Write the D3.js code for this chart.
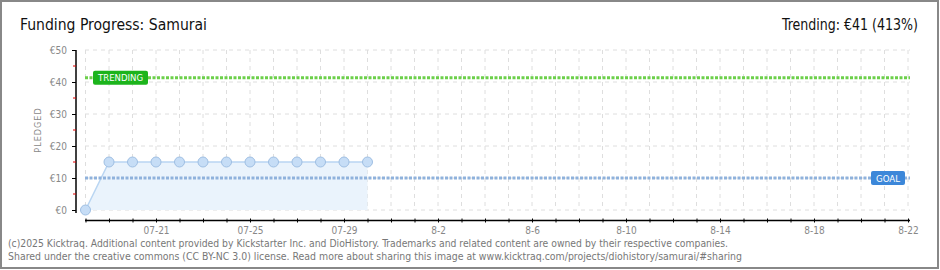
<!DOCTYPE html>
<html>
<head>
<meta charset="utf-8">
<script src="https://cdn.jsdelivr.net/npm/d3@7"></script>
<style>
  body { margin: 0; background: #fff; }
  svg { display: block; }
</style>
</head>
<body>
<svg width="940" height="270"></svg>
<script>
// data
var days = ["2025-07-18","2025-07-19","2025-07-20","2025-07-21","2025-07-22","2025-07-23","2025-07-24",
            "2025-07-25","2025-07-26","2025-07-27","2025-07-28","2025-07-29","2025-07-30"];
var pledged = [0, 15, 15, 15, 15, 15, 15, 15, 15, 15, 15, 15, 15];
var goal = 10;
var trending = 41.3;
var yTicks = [0, 10, 20, 30, 40, 50];
var yMinor = [5, 15, 25, 35, 45];
var xLabels = ["07-21","07-25","07-29","8-2","8-6","8-10","8-14","8-18","8-22"];
var xLabelDays = ["2025-07-21","2025-07-25","2025-07-29","2025-08-02","2025-08-06","2025-08-10","2025-08-14","2025-08-18","2025-08-22"];
var axisStart = "2025-07-18", axisEnd = "2025-08-22";

var parse = d3.timeParse("%Y-%m-%d");
var svg = d3.select("svg");
var labelFont = "'DejaVu Sans Condensed', 'DejaVu Sans', sans-serif";

var x = d3.scaleTime().domain([parse(axisStart), parse(axisEnd)]).range([85.5, 908]);
var y = d3.scaleLinear().domain([0, 50]).range([210, 50]);

var data = days.map(function(d, i) { return { date: parse(d), v: pledged[i] }; });
var allDays = d3.timeDay.range(parse(axisStart), d3.timeDay.offset(parse(axisEnd), 1));

// frame
svg.append("rect")
  .attr("x", 1).attr("y", 1).attr("width", 937).attr("height", 267)
  .attr("fill", "#fff").attr("stroke", "#888").attr("stroke-width", 2);

// title
svg.append("text").attr("x", 20).attr("y", 30)
  .attr("font-family", labelFont).attr("font-size", 16).attr("fill", "#111")
  .attr("textLength", 187).attr("lengthAdjust", "spacingAndGlyphs")
  .text("Funding Progress: Samurai");
svg.append("text").attr("x", 918).attr("y", 30).attr("text-anchor", "end")
  .attr("font-family", labelFont).attr("font-size", 16).attr("fill", "#111")
  .attr("textLength", 136).attr("lengthAdjust", "spacingAndGlyphs")
  .text("Trending: €41 (413%)");

// grid
var grid = svg.append("g");
grid.selectAll(".vg").data(allDays).enter().append("line")
  .attr("x1", function(d) { return x(d); }).attr("x2", function(d) { return x(d); })
  .attr("y1", 50).attr("y2", 210)
  .attr("stroke", "#dedede").attr("stroke-dasharray", "4,4");
grid.selectAll(".hg").data(yTicks).enter().append("line")
  .attr("x1", 85).attr("x2", 910)
  .attr("y1", function(d) { return y(d); }).attr("y2", function(d) { return y(d); })
  .attr("stroke", "#dedede").attr("stroke-dasharray", "4,4");

// area + line + points
svg.append("path").datum(data)
  .attr("fill", "#eaf3fc")
  .attr("d", d3.area().x(function(d) { return x(d.date); }).y0(y(0)).y1(function(d) { return y(d.v); }));
svg.append("path").datum(data)
  .attr("fill", "none").attr("stroke", "#b9d5f2").attr("stroke-width", 1.5)
  .attr("d", d3.line().x(function(d) { return x(d.date); }).y(function(d) { return y(d.v); }));

// goal + trending lines
svg.append("line").attr("x1", 85).attr("x2", 910).attr("y1", y(goal)).attr("y2", y(goal))
  .attr("stroke", "#8fb2dc").attr("stroke-width", 3).attr("stroke-dasharray", "3,1.5");
svg.append("line").attr("x1", 85).attr("x2", 910).attr("y1", y(trending)).attr("y2", y(trending))
  .attr("stroke", "#6cd04a").attr("stroke-width", 3).attr("stroke-dasharray", "3,1.5");

svg.selectAll(".pt").data(data).enter().append("circle")
  .attr("cx", function(d) { return x(d.date); }).attr("cy", function(d) { return y(d.v); })
  .attr("r", 5).attr("fill", "#c6ddf6").attr("stroke", "#9fbfe3").attr("stroke-width", 1);

// tags
function tag(x0, yc, w, fill, txt, tw) {
  svg.append("rect").attr("x", x0).attr("y", yc - 7).attr("width", w).attr("height", 14)
    .attr("rx", 2).attr("fill", fill);
  svg.append("text").attr("x", x0 + (w - tw) / 2).attr("y", yc + 3.5)
    .attr("font-family", labelFont).attr("font-size", 9)
    .attr("textLength", tw).attr("lengthAdjust", "spacingAndGlyphs")
    .attr("fill", "#fff").text(txt);
}
tag(93, y(trending), 55, "#1cb41c", "TRENDING", 45);
tag(871, y(goal), 34, "#3c87d9", "GOAL", 24);

// y axis
var yAxis = svg.append("g").attr("transform", "translate(76,0)")
  .call(d3.axisLeft(y).tickValues(yTicks).tickSize(4).tickPadding(5)
    .tickFormat(function(d) { return "€" + d; }));
yAxis.select(".domain").attr("d", "M0,50V213").attr("stroke", "#000").attr("stroke-width", 1.5);
yAxis.selectAll("text").attr("fill", "#888").attr("font-size", 10).attr("font-family", labelFont);
yAxis.selectAll(".minor").data(yMinor).enter().append("line")
  .attr("x1", -3).attr("x2", 0)
  .attr("y1", function(d) { return y(d); }).attr("y2", function(d) { return y(d); })
  .attr("stroke", "#e00000").attr("stroke-width", 1);
svg.append("text").attr("transform", "translate(41,130) rotate(-90)")
  .attr("text-anchor", "middle").attr("font-family", labelFont).attr("font-size", 9)
  .attr("letter-spacing", 1).attr("fill", "#888").text("PLEDGED");

// x axis
var labelMap = {};
xLabelDays.forEach(function(d, i) { labelMap[+parse(d)] = xLabels[i]; });
var xAxis = svg.append("g").attr("transform", "translate(0,220.5)")
  .call(d3.axisBottom(x).tickValues(allDays).tickSize(2).tickPadding(4)
    .tickFormat(function(d) { return labelMap[+d] || ""; }));
xAxis.select(".domain").attr("d", "M85,0H910").attr("stroke", "#000").attr("stroke-width", 1.5);
xAxis.selectAll(".tick line").attr("y1", -2).attr("y2", 2).attr("stroke", "#000");
xAxis.selectAll("text").attr("fill", "#888").attr("font-size", 10).attr("font-family", labelFont);

// footer
var foot = ["(c)2025 Kicktraq. Additional content provided by Kickstarter Inc. and DioHistory. Trademarks and related content are owned by their respective companies.",
            "Shared under the creative commons (CC BY-NC 3.0) license. Read more about sharing this image at www.kicktraq.com/projects/diohistory/samurai/#sharing"];
var footW = [720, 734];
svg.selectAll(".foot").data(foot).enter().append("text")
  .attr("x", 8).attr("y", function(d, i) { return 247 + i * 13; })
  .attr("font-family", labelFont).attr("font-size", 10).attr("fill", "#777")
  .attr("textLength", function(d, i) { return footW[i]; }).attr("lengthAdjust", "spacingAndGlyphs")
  .text(function(d) { return d; });
</script>
</body>
</html>
